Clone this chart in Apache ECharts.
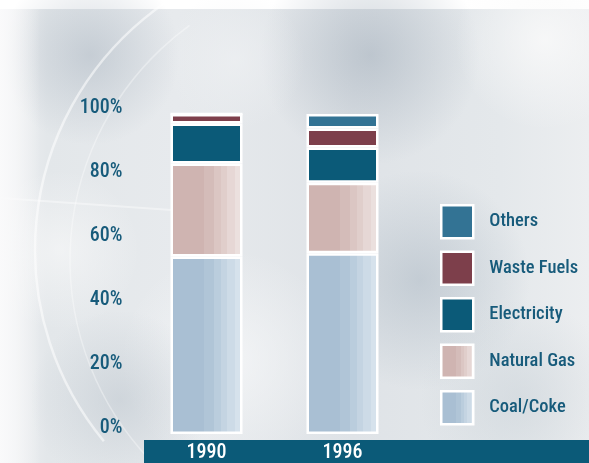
<!DOCTYPE html>
<html>
<head>
<meta charset="utf-8">
<script src="https://cdn.jsdelivr.net/npm/echarts@6/dist/echarts.min.js"></script>
<style>
  html, body { margin: 0; padding: 0; background: #ffffff; }
  #chart { width: 589px; height: 463px; }
</style>
</head>
<body>
<div id="chart"></div>
<script>
// Fuel share of energy use, percent of total
var years = ['1990', '1996'];
var coalCoke    = [55.5, 56.5];
var naturalGas  = [29, 22];
var electricity = [12.5, 11];
var wasteFuels  = [3, 6];
var others      = [0, 4.5];
var yTicks = [0, 20, 40, 60, 80, 100];

var FONT = "'Roboto Condensed', 'DejaVu Sans Condensed', sans-serif";
var TEXT_BLUE = '#175b7b';

// striped fill that fades toward the right edge of a bar
function stripes(steps) {
  var stops = [];
  for (var i = 0; i < steps.length; i++) {
    stops.push({ offset: steps[i][0], color: steps[i][2] });
    stops.push({ offset: steps[i][1], color: steps[i][2] });
  }
  return new echarts.graphic.LinearGradient(0, 0, 1, 0, stops);
}
var coalFill = stripes([
  [0, 0.47, '#a9bfd3'], [0.47, 0.6, '#b0c5d7'], [0.6, 0.7, '#bacddd'],
  [0.7, 0.79, '#c4d4e2'], [0.79, 0.89, '#cddbe7'], [0.89, 1, '#d6e2ec']
]);
var gasFill = stripes([
  [0, 0.47, '#cfb4b1'], [0.47, 0.6, '#d4bcb9'], [0.6, 0.7, '#dbc6c3'],
  [0.7, 0.79, '#e0cecb'], [0.79, 0.89, '#e6d7d5'], [0.89, 1, '#ebe0de']
]);

function bar(name, values, color) {
  return {
    name: name,
    type: 'bar',
    stack: 'share',
    barWidth: 72,
    data: values,
    itemStyle: { color: color, borderColor: '#ffffff', borderWidth: 2.5 },
    emphasis: { disabled: true }
  };
}

function blob(cx, cy, r, rgb, a) {
  return {
    type: 'circle', z: 0, silent: true,
    shape: { cx: cx, cy: cy, r: r },
    style: {
      fill: new echarts.graphic.RadialGradient(0.5, 0.5, 0.5, [
        { offset: 0, color: 'rgba(' + rgb + ',' + a + ')' },
        { offset: 1, color: 'rgba(' + rgb + ',0)' }
      ])
    }
  };
}

var chart = echarts.init(document.getElementById('chart'), null, { renderer: 'canvas' });

chart.setOption({
  animation: false,
  backgroundColor: '#ffffff',
  graphic: [
    // cloudy backdrop
    {
      type: 'rect', z: 0, silent: true,
      shape: { x: 0, y: 9, width: 589, height: 454 },
      style: {
        fill: new echarts.graphic.LinearGradient(0, 0, 1, 0, [
          { offset: 0, color: '#f3f4f5' },
          { offset: 0.08, color: '#e3e7ea' },
          { offset: 0.3, color: '#e7eaed' },
          { offset: 0.6, color: '#dfe3e7' },
          { offset: 0.85, color: '#e4e8eb' },
          { offset: 1, color: '#eceef0' }
        ])
      }
    },
    blob(90, 55, 90, '160,172,185', 0.45),
    blob(370, 55, 110, '155,168,181', 0.5),
    blob(235, 60, 70, '240,242,244', 0.6),
    blob(420, 280, 110, '160,174,187', 0.45),
    blob(545, 40, 90, '250,250,250', 0.8),
    blob(230, 360, 110, '248,249,250', 0.7),
    blob(120, 400, 90, '180,190,199', 0.45),
    blob(520, 400, 100, '195,204,211', 0.45),
    blob(60, 250, 80, '250,250,250', 0.6),
    // faint globe outline
    {
      type: 'arc', z: 0, silent: true,
      shape: { cx: 335, cy: 250, r: 300, startAngle: Math.PI * 0.78, endAngle: Math.PI * 1.37 },
      style: { stroke: 'rgba(255,255,255,0.55)', lineWidth: 2.5, fill: null }
    },
    {
      type: 'arc', z: 0, silent: true,
      shape: { cx: 360, cy: 260, r: 290, startAngle: Math.PI * 0.76, endAngle: Math.PI * 1.3 },
      style: { stroke: 'rgba(255,255,255,0.35)', lineWidth: 1.5, fill: null }
    },
    {
      type: 'line', z: 0, silent: true,
      shape: { x1: 0, y1: 198, x2: 200, y2: 212 },
      style: { stroke: 'rgba(255,255,255,0.4)', lineWidth: 2 }
    },
    {
      type: 'rect', z: 0, silent: true,
      shape: { x: 0, y: 9, width: 40, height: 454 },
      style: {
        fill: new echarts.graphic.LinearGradient(0, 0, 1, 0, [
          { offset: 0, color: 'rgba(250,250,251,0.95)' },
          { offset: 1, color: 'rgba(250,250,251,0)' }
        ])
      }
    },
    // band under the bars carrying the year labels
    {
      type: 'rect', z: 1, silent: true,
      shape: { x: 144, y: 440, width: 445, height: 23 },
      style: { fill: '#0b5a78' }
    }
  ],
  grid: { left: 138.5, top: 114, width: 272, height: 326 },
  xAxis: {
    type: 'category',
    data: years,
    z: 10,
    axisLine: { show: false },
    axisTick: { show: false },
    axisLabel: {
      color: '#ffffff', fontFamily: FONT, fontSize: 20, fontWeight: 500,
      margin: 9, verticalAlign: 'top', lineHeight: 20
    }
  },
  yAxis: {
    type: 'value',
    min: yTicks[0],
    max: yTicks[yTicks.length - 1],
    interval: 20,
    z: 10,
    splitLine: { show: false },
    axisLine: { show: false },
    axisTick: { show: false },
    axisLabel: {
      color: TEXT_BLUE, fontFamily: FONT, fontSize: 20, fontWeight: 500,
      margin: 16, formatter: '{value}%',
      verticalAlign: 'bottom', lineHeight: 12
    }
  },
  legend: {
    orient: 'vertical',
    left: 440,
    top: 204,
    padding: 0,
    itemWidth: 32,
    itemHeight: 33,
    itemGap: 11,
    icon: 'rect',
    selectedMode: false,
    data: ['Others', 'Waste Fuels', 'Electricity', 'Natural Gas', 'Coal/Coke'],
    itemStyle: { borderColor: '#ffffff', borderWidth: 2.5 },
    textStyle: { color: TEXT_BLUE, fontFamily: FONT, fontSize: 18.5, fontWeight: 500, padding: [0, 0, 0, 11] }
  },
  series: [
    bar('Coal/Coke', coalCoke, coalFill),
    bar('Natural Gas', naturalGas, gasFill),
    bar('Electricity', electricity, '#0b5a78'),
    bar('Waste Fuels', wasteFuels, '#7d3f4b'),
    bar('Others', others, '#337394')
  ]
});
</script>
</body>
</html>
